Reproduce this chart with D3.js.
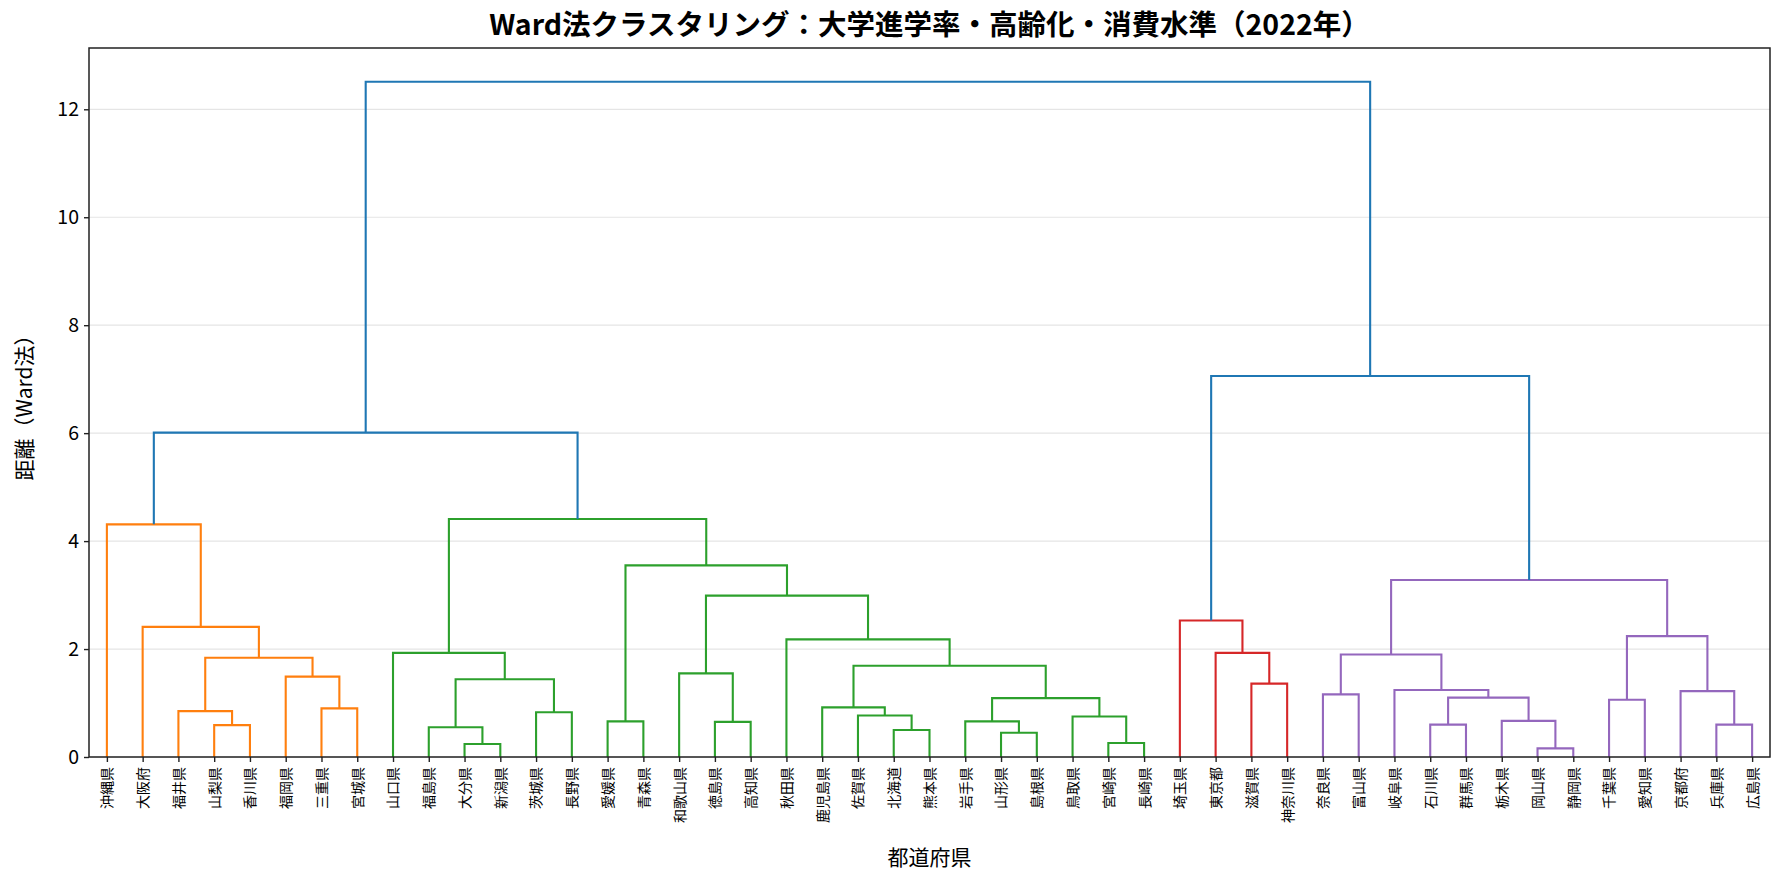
<!DOCTYPE html>
<html>
<head>
<meta charset="utf-8">
<script src="https://cdn.jsdelivr.net/npm/d3@7"></script>
<style>
  html, body { margin: 0; padding: 0; background: #fff; }
  svg { display: block; }
  text { font-family: "Noto Sans CJK JP", "Noto Sans", sans-serif; fill: #000; }
</style>
</head>
<body>
<svg id="chart" width="1785" height="884"></svg>
<script>
// Leaf order (left to right)
const leaves = ["沖縄県","大阪府","福井県","山梨県","香川県","福岡県","三重県","宮城県",
  "山口県","福島県","大分県","新潟県","茨城県","長野県","愛媛県","青森県","和歌山県","徳島県","高知県",
  "秋田県","鹿児島県","佐賀県","北海道","熊本県","岩手県","山形県","島根県","鳥取県","宮崎県","長崎県",
  "埼玉県","東京都","滋賀県","神奈川県",
  "奈良県","富山県","岐阜県","石川県","群馬県","栃木県","岡山県","静岡県","千葉県","愛知県","京都府","兵庫県","広島県"];

// Cluster of each leaf (0 orange, 1 green, 2 red, 3 purple)
const leafCluster = [0,0,0,0,0,0,0,0,
  1,1,1,1,1,1,1,1,1,1,1,1,1,1,1,1,1,1,1,1,1,1,
  2,2,2,2,
  3,3,3,3,3,3,3,3,3,3,3,3,3];

const clusterColors = ["#ff7f0e","#2ca02c","#d62728","#9467bd"];
const aboveColor = "#1f77b4";

// Linkage: [left id, right id] ; ids 0..46 leaves, 47+ merges in order
const mergeLeft  = [3,2,6,5,48,1,0,  10,9,12,55,8,14,17,16,22,21,20,25,24,28,27,66,64,19,61,59,58, 53,
  32,31,30, 34,40,39,37,82,36,79,42,45,44,86,85, 78,75];
const mergeRight = [4,47,7,49,50,51,52, 11,54,13,56,57,15,18,60,23,62,63,26,65,29,67,68,69,70,71,72,73, 74,
  33,76,77, 35,41,80,38,81,83,84,43,46,87,88,89, 90,91];
const mergeHeight = [0.59,0.85,0.90,1.49,1.84,2.41,4.31,
  0.24,0.55,0.83,1.44,1.93,0.66,0.65,1.55,0.50,0.77,0.92,0.45,0.66,0.26,0.75,1.09,1.69,2.18,2.99,3.55,4.41,
  6.01,
  1.36,1.93,2.53,
  1.16,0.16,0.67,0.60,1.10,1.24,1.90,1.06,0.60,1.22,2.24,3.28,
  7.06,12.51];

const yTicks = [0,2,4,6,8,10,12];

const W = 1785, H = 884;
const m = {left: 89, right: 15, top: 48, bottom: 127};
const svg = d3.select("#chart");

const maxH = d3.max(mergeHeight);
const x = d3.scalePoint().domain(leaves).range([m.left, W - m.right]).padding(0.5);
const y = d3.scaleLinear().domain([0, maxH * 1.05]).range([H - m.bottom, m.top]);

// grid
svg.append("g")
  .selectAll("line").data(yTicks).join("line")
  .attr("x1", m.left).attr("x2", W - m.right)
  .attr("y1", d => y(d)).attr("y2", d => y(d))
  .attr("stroke", "#e5e5e5").attr("stroke-width", 1.2);

// build node positions
const nodeX = leaves.map(l => x(l));
const nodeH = leaves.map(() => 0);
const nodeCl = leafCluster.slice();
const links = [];
mergeLeft.forEach((a, i) => {
  const b = mergeRight[i];
  const h = mergeHeight[i];
  const cl = (nodeCl[a] === nodeCl[b] && nodeCl[a] >= 0) ? nodeCl[a] : -1;
  links.push({x1: nodeX[a], h1: nodeH[a], x2: nodeX[b], h2: nodeH[b], h, cl});
  nodeX.push((nodeX[a] + nodeX[b]) / 2);
  nodeH.push(h);
  nodeCl.push(cl);
});

svg.append("g")
  .selectAll("path").data(links).join("path")
  .attr("d", d => `M${d.x1},${y(d.h1)}V${y(d.h)}H${d.x2}V${y(d.h2)}`)
  .attr("fill", "none")
  .attr("stroke", d => d.cl >= 0 ? clusterColors[d.cl] : aboveColor)
  .attr("stroke-width", 2.1);

// axes
const yAxis = d3.axisLeft(y).tickValues(yTicks).tickSize(5).tickPadding(5).tickFormat(d3.format("d"));
const gy = svg.append("g").attr("transform", `translate(${m.left},0)`).call(yAxis);
gy.select(".domain").remove();
gy.selectAll(".tick line").attr("stroke", "#222").attr("stroke-width", 1.4);
gy.selectAll(".tick text").attr("font-size", 19.5).attr("fill", "#000")
  .style("font-family", "'Noto Sans CJK JP', sans-serif");

const xAxis = d3.axisBottom(x).tickSize(5).tickPadding(4);
const gx = svg.append("g").attr("transform", `translate(0,${H - m.bottom})`).call(xAxis);
gx.select(".domain").remove();
gx.selectAll(".tick line").attr("stroke", "#222").attr("stroke-width", 1.4);
gx.selectAll(".tick text")
  .attr("font-size", 14).attr("fill", "#000")
  .attr("text-anchor", "end")
  .attr("dy", "0.35em")
  .attr("transform", "translate(0,10) rotate(-90)")
  .attr("x", 0).attr("y", 0)
  .style("font-family", "'Noto Sans CJK JP', sans-serif");

// frame
svg.append("rect")
  .attr("x", m.left).attr("y", m.top)
  .attr("width", W - m.right - m.left).attr("height", H - m.bottom - m.top)
  .attr("fill", "none").attr("stroke", "#222").attr("stroke-width", 1.5);

// title
svg.append("text")
  .attr("x", (m.left + W - m.right) / 2).attr("y", 35)
  .attr("text-anchor", "middle")
  .attr("font-size", 28.5).attr("font-weight", "bold")
  .text("Ward法クラスタリング：大学進学率・高齢化・消費水準（2022年）");

// axis labels
svg.append("text")
  .attr("x", (m.left + W - m.right) / 2).attr("y", 865)
  .attr("text-anchor", "middle").attr("font-size", 21)
  .text("都道府県");

svg.append("text")
  .attr("transform", `translate(32,${(m.top + H - m.bottom) / 2}) rotate(-90)`)
  .attr("text-anchor", "middle").attr("font-size", 21)
  .text("距離（Ward法）");
</script>
</body>
</html>
